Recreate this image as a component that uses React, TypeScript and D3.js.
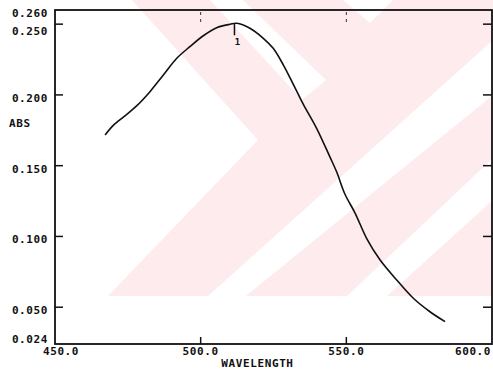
import { useEffect } from "react";
import * as d3 from "d3";

/* ------------------------------------------------------------------ */
/*  Data                              */
/* ------------------------------------------------------------------ */

const wavelengths = [
  467.2, 470.0, 474.0, 478.0, 482.6, 487.2, 491.8, 496.3, 500.9, 505.5, 510.1,
  512.4, 516.9, 521.5, 524.9, 528.4, 531.8, 535.2, 539.8, 544.4, 546.7, 549.5,
  553.0, 557.0, 561.6, 567.3, 573.0, 578.7, 583.9,
];
const absorbance = [
  0.1717, 0.1785, 0.1852, 0.1922, 0.2023, 0.2141, 0.2259, 0.2341, 0.2418,
  0.2475, 0.2499, 0.2506, 0.2471, 0.24, 0.2329, 0.2211, 0.2075, 0.1935, 0.1764,
  0.156, 0.1455, 0.13, 0.1165, 0.0985, 0.0833, 0.0692, 0.0563, 0.0468,
  0.0398,
];

const yTicks = [0.26, 0.25, 0.2, 0.15, 0.1, 0.05, 0.024];
const xTicks = [450, 500, 550, 600];
const peakWavelength = 511.6;
const peakLabel = "1";

/* ------------------------------------------------------------------ */
/*  Layout                                                            */
/* ------------------------------------------------------------------ */

const W = 493;
const H = 376;
const left = 55;
const right = 492;
const top = 10;
const bottom = 344;

const FONT = "'DejaVu Sans Mono', 'Liberation Mono', monospace";
const INK = "#111";
const PINK = "#fdebee";

// watermark pieces, page pixels (decoration only, not data)
const wmBase: [number, number][] = [
  [108, 0], [493, 0], [493, 296], [108, 296],
];
const wmCuts: [number, number][][] = [
  [[100, 0], [132, 0], [258, 140], [108, 296], [100, 296]],
  [[210, 0], [243, 0], [326, 80], [302, 100]],
  [[208, 296], [246, 296], [493, 95], [493, 40]],
  [[347, 296], [387, 296], [493, 200], [493, 158]],
  [[343, 0], [393, 0], [370, 23]],
];

export default function App() {
  useEffect(() => {
    document.body.style.margin = "0";
  }, []);

  const x = d3.scaleLinear().domain([450, 600]).range([left, right]);
  const y = d3.scaleLinear().domain([0.024, 0.26]).range([bottom, top]);

  const points = wavelengths.map((w, i) => [w, absorbance[i]] as [number, number]);
  const line = d3
    .line<[number, number]>()
    .x((d) => x(d[0]))
    .y((d) => y(d[1]))
    .curve(d3.curveCatmullRom.alpha(0.5));

  const fmtY = d3.format(".3f");
  const fmtX = d3.format(".1f");

  // y labels: nudge down a bit, keep them from colliding
  let prev = -Infinity;
  const yLabels = yTicks.map((v) => {
    let ly = Math.min(Math.max(y(v) + 4, 13), 340);
    if (ly - prev < 18) ly = prev + 18;
    prev = ly;
    return { v, ly };
  });

  const poly = (pts: [number, number][]) =>
    "M" + pts.map((p) => p.join(",")).join("L") + "Z";

  const innerTicks = yTicks.filter((v) => v !== 0.26 && v !== 0.024);

  return (
    <svg width={W} height={H} style={{ display: "block", background: "#fff" }}>
      {/* watermark */}
      <g>
        <path d={poly(wmBase)} fill={PINK} />
        {wmCuts.map((c, i) => (
          <path key={i} d={poly(c)} fill="#fff" />
        ))}
      </g>

      {/* frame */}
      <rect
        x={left}
        y={top}
        width={right - left}
        height={bottom - top}
        fill="none"
        stroke={INK}
        strokeWidth={1.8}
      />

      {/* y ticks, both sides */}
      {innerTicks.map((v) => (
        <g key={v} stroke={INK} strokeWidth={1.5}>
          <line x1={left} x2={left + 8} y1={y(v)} y2={y(v)} />
          <line x1={right - 9} x2={right} y1={y(v)} y2={y(v)} />
        </g>
      ))}

      {/* x ticks */}
      {xTicks.slice(1, -1).map((v) => (
        <g key={v}>
          <line x1={x(v)} x2={x(v)} y1={bottom} y2={bottom - 7} stroke={INK} strokeWidth={1.5} />
          <line
            x1={x(v)}
            x2={x(v)}
            y1={top + 2}
            y2={top + 16}
            stroke="#333"
            strokeWidth={1}
            strokeDasharray="3,4"
          />
        </g>
      ))}

      {/* y labels */}
      <g fontFamily={FONT} fontSize={11} fontWeight="bold" fill={INK} letterSpacing={0.6}>
        {yLabels.map(({ v, ly }) => (
          <text key={v} x={48} y={ly} textAnchor="end" dominantBaseline="middle">
            {fmtY(v)}
          </text>
        ))}
        <text x={9} y={124} dominantBaseline="middle">
          ABS
        </text>

        {/* x labels */}
        {xTicks.map((v) => {
          const lx = Math.min(Math.max(x(v), 61), 473);
          return (
            <text key={v} x={lx} y={352} textAnchor="middle" dominantBaseline="middle">
              {fmtX(v)}
            </text>
          );
        })}
        <text x={x(519.5)} y={364} textAnchor="middle" dominantBaseline="middle">
          WAVELENGTH
        </text>
      </g>

      {/* spectrum */}
      <path d={line(points) ?? ""} fill="none" stroke={INK} strokeWidth={1.6} />

      {/* peak marker */}
      <line
        x1={x(peakWavelength)}
        x2={x(peakWavelength)}
        y1={y(0.2506)}
        y2={y(0.2506) + 12}
        stroke={INK}
        strokeWidth={1.5}
      />
      <text
        x={x(peakWavelength) + 3}
        y={y(0.2506) + 19}
        textAnchor="middle"
        dominantBaseline="middle"
        fontFamily={FONT}
        fontSize={9}
        fontWeight="bold"
        fill={INK}
      >
        {peakLabel}
      </text>
    </svg>
  );
}
